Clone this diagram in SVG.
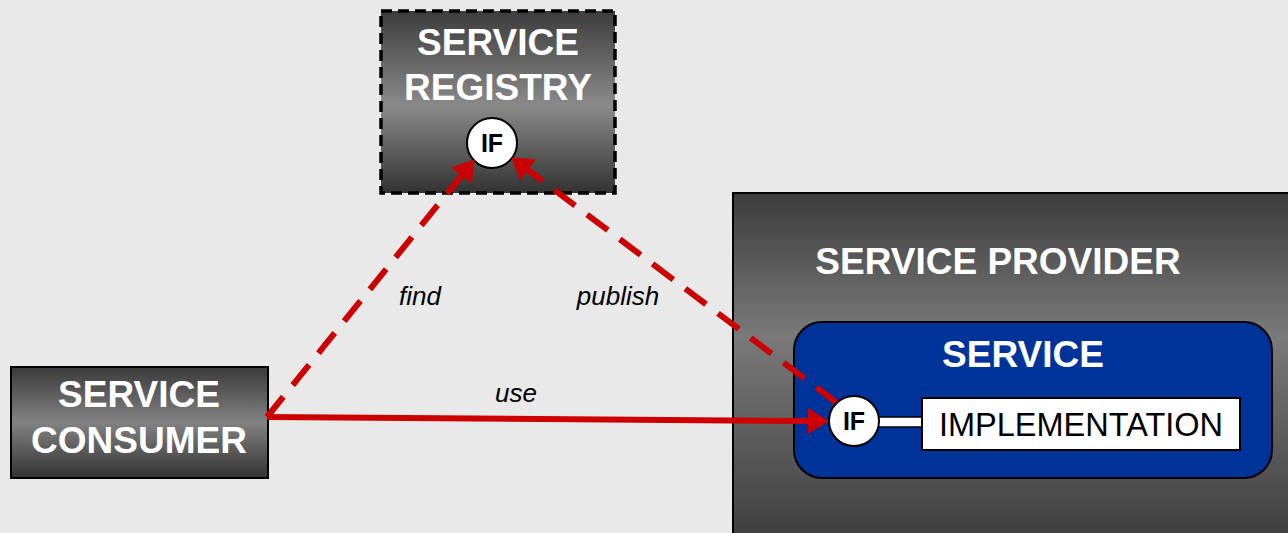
<svg xmlns="http://www.w3.org/2000/svg" width="1288" height="533" viewBox="0 0 1288 533">
<style>
.t{font-family:"Liberation Sans",Arial,sans-serif;}
.h{font-size:37px;font-weight:bold;fill:#ffffff;text-anchor:middle;}
.lbl{font-size:26px;font-style:italic;fill:#000;text-anchor:middle;}
.if{font-size:25px;font-weight:bold;fill:#000;text-anchor:middle;}
.c{fill:#ffffff;stroke:#000;stroke-width:2;}
.red{stroke:#cc0000;stroke-width:6;fill:none;}
.dash{stroke-dasharray:26 15;}
</style>
<defs>
<linearGradient id="gReg" gradientUnits="userSpaceOnUse" x1="0" y1="11" x2="0" y2="193">
<stop offset="0" stop-color="#3c3c3c"/><stop offset="0.52" stop-color="#8a8a8a"/><stop offset="1" stop-color="#333333"/>
</linearGradient>
<linearGradient id="gCon" gradientUnits="userSpaceOnUse" x1="0" y1="367" x2="0" y2="478">
<stop offset="0" stop-color="#3a3a3a"/><stop offset="0.5" stop-color="#828282"/><stop offset="1" stop-color="#333333"/>
</linearGradient>
<linearGradient id="gPro" gradientUnits="userSpaceOnUse" x1="0" y1="193" x2="0" y2="533">
<stop offset="0" stop-color="#3c3c3c"/><stop offset="0.42" stop-color="#7a7a7a"/><stop offset="1" stop-color="#404040"/>
</linearGradient>
<marker id="ah" markerUnits="userSpaceOnUse" viewBox="0 -13 21 26" refX="0" refY="0" markerWidth="21" markerHeight="26" orient="auto" overflow="visible">
<path d="M0,-13 L21,0 L0,13 z" fill="#cc0000"/>
</marker>
</defs>
<rect x="0" y="0" width="1288" height="533" fill="#e9e9e9"/>

<g id="provider">
<rect x="733" y="193" width="600" height="360" fill="url(#gPro)" stroke="#000" stroke-width="2"/>
<text class="t h" x="998" y="274">SERVICE PROVIDER</text>
</g>

<g id="service">
<rect x="794" y="322" width="478" height="156" rx="28" ry="28" fill="#003399" stroke="#000" stroke-width="2"/>
<text class="t h" x="1023" y="367">SERVICE</text>
</g>

<g id="registry">
<rect x="381" y="11" width="234" height="182" fill="url(#gReg)" stroke="#000" stroke-width="3.5" stroke-dasharray="11 6"/>
<text class="t h" x="498" y="55">SERVICE</text>
<text class="t h" x="498" y="100">REGISTRY</text>
</g>

<g id="registry-if">
<circle class="c" cx="492" cy="143" r="25"/>
<text class="t if" x="492" y="152">IF</text>
</g>

<g id="consumer">
<rect x="11" y="367" width="257" height="111" fill="url(#gCon)" stroke="#000" stroke-width="2"/>
<text class="t h" x="139" y="407">SERVICE</text>
<text class="t h" x="139" y="453">CONSUMER</text>
</g>

<g id="implementation">
<rect x="878" y="417" width="45" height="10" fill="#ffffff" stroke="#000" stroke-width="1.5"/>
<rect x="922" y="398" width="318" height="52" fill="#ffffff" stroke="#000" stroke-width="2"/>
<text class="t" x="1081" y="436" font-size="32.5" text-anchor="middle" fill="#000">IMPLEMENTATION</text>
</g>

<g id="connectors">
<line class="red dash" x1="267" y1="417" x2="461.5" y2="175.6" marker-end="url(#ah)"/>
<line class="red dash" x1="837" y1="403" x2="528" y2="170" marker-end="url(#ah)"/>
<line class="red" x1="267" y1="417" x2="808" y2="421" marker-end="url(#ah)"/>
<text class="t lbl" x="420" y="305">find</text>
<text class="t lbl" x="618" y="305">publish</text>
<text class="t lbl" x="516" y="402">use</text>
</g>

<g id="service-if">
<circle class="c" cx="854" cy="421" r="25"/>
<text class="t if" x="854" y="430">IF</text>
</g>
</svg>
